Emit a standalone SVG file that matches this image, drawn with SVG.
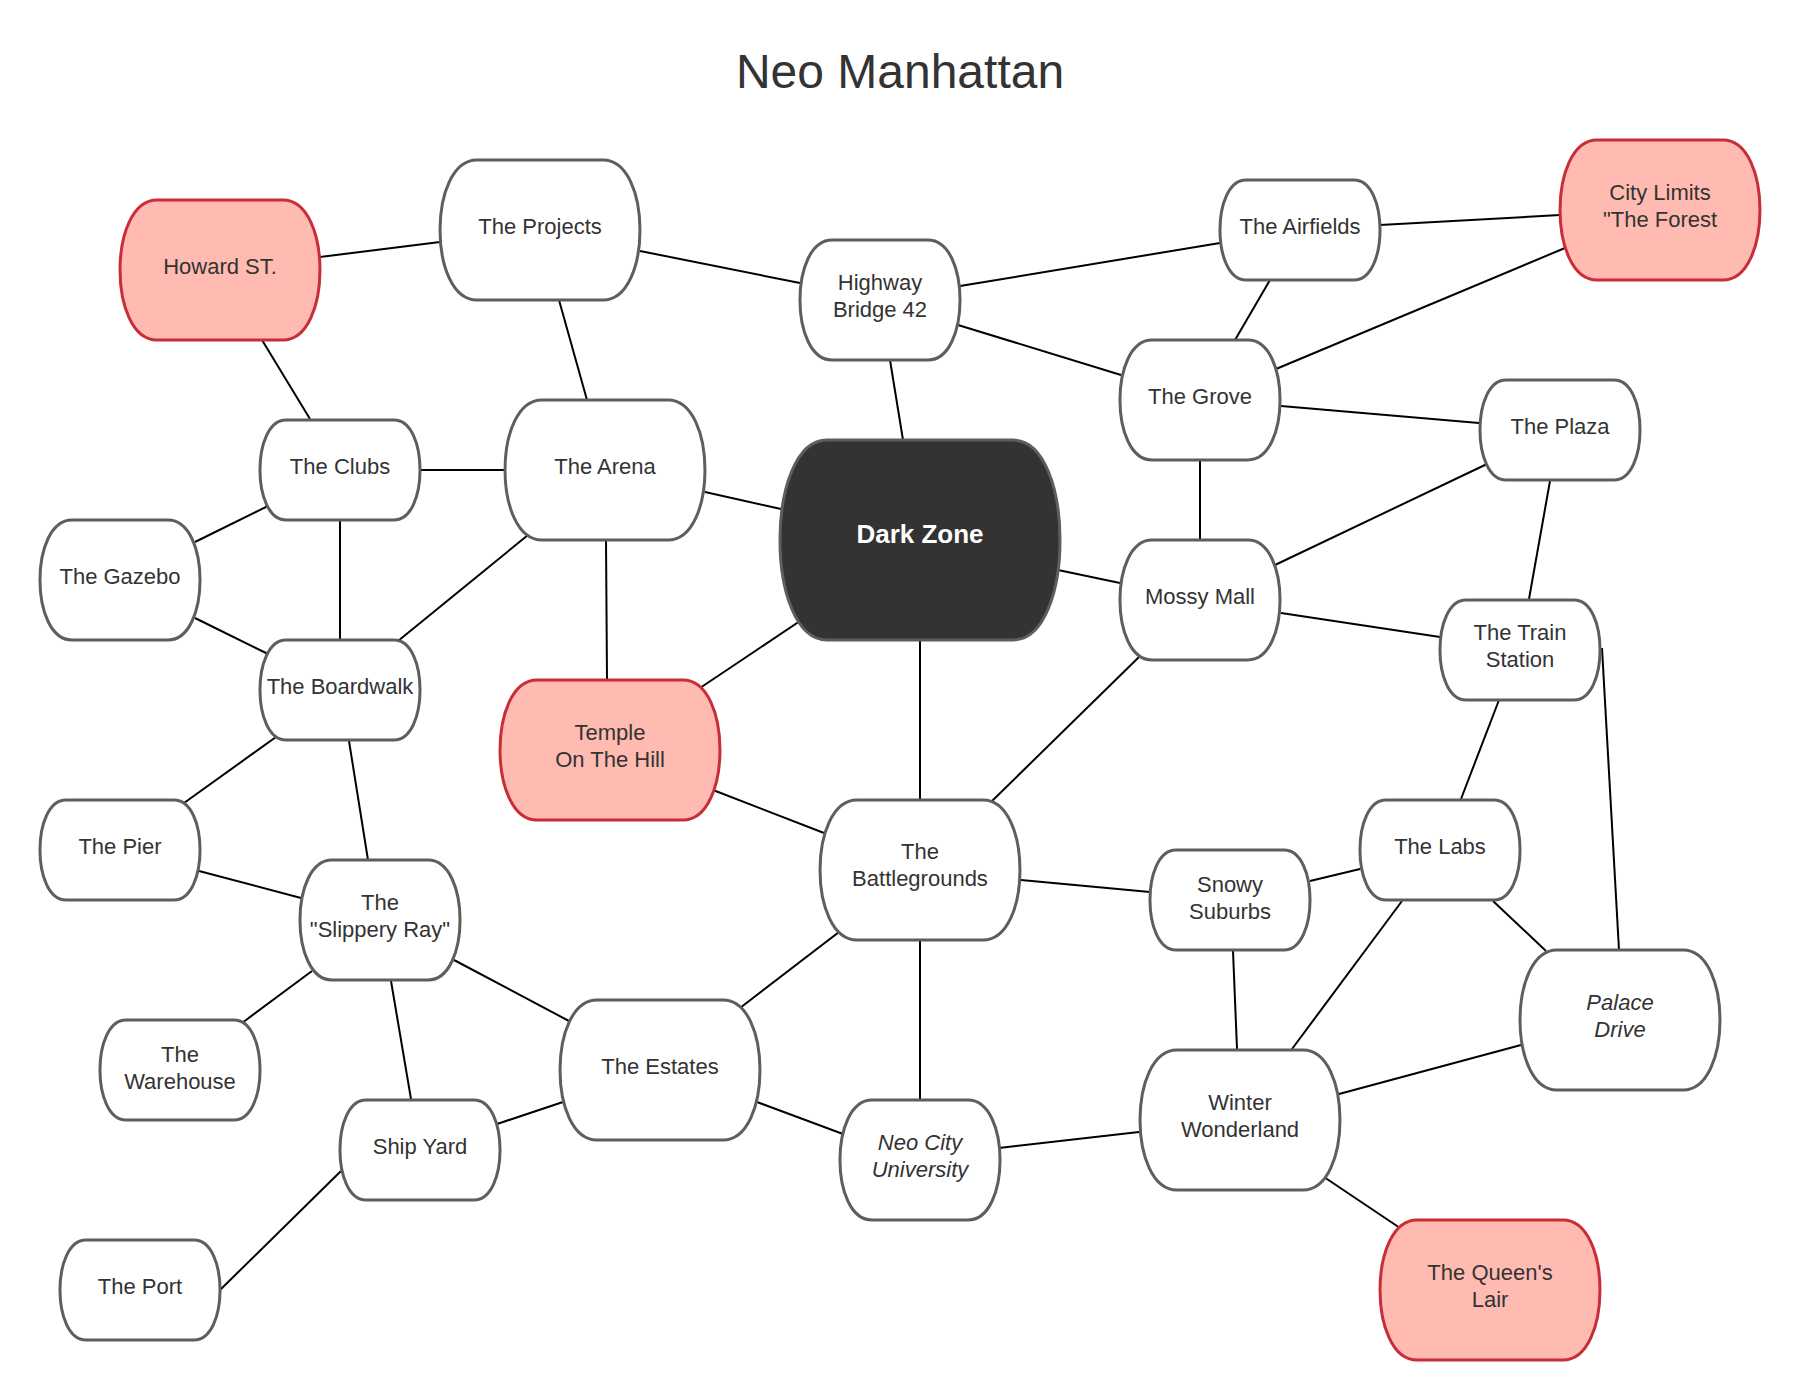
<svg xmlns="http://www.w3.org/2000/svg" width="1800" height="1400" viewBox="0 0 1800 1400">
<style>
.n{fill:#ffffff;stroke:#5e5e5e;stroke-width:3}
.r{fill:#ffbbb1;stroke:#c92d39;stroke-width:3}
.d{fill:#333333;stroke:#5e5e5e;stroke-width:3}
.t{font-family:"Liberation Sans",Arial,sans-serif;font-size:22px;fill:#333333;text-anchor:middle}
.i{font-style:italic}
.dt{font-family:"Liberation Sans",Arial,sans-serif;font-size:26px;font-weight:bold;fill:#ffffff;text-anchor:middle}
.title{font-family:"Liberation Sans",Arial,sans-serif;font-size:48px;fill:#333333;text-anchor:middle}
#edges line{stroke:#000000;stroke-width:2}
</style>
<rect width="1800" height="1400" fill="#ffffff"/>
<text class="title" x="900" y="88">Neo Manhattan</text>
<g id="edges">
<line x1="320" y1="257" x2="440" y2="242"/>
<line x1="640" y1="251" x2="800" y2="283"/>
<line x1="262" y1="340" x2="310" y2="419"/>
<line x1="559" y1="300" x2="587" y2="400"/>
<line x1="960" y1="286" x2="1220" y2="243"/>
<line x1="958" y1="325" x2="1121" y2="375"/>
<line x1="890" y1="360" x2="903" y2="440"/>
<line x1="1380" y1="225" x2="1560" y2="215"/>
<line x1="1270" y1="280" x2="1235" y2="340"/>
<line x1="1565" y1="248" x2="1276" y2="369"/>
<line x1="420" y1="470" x2="505" y2="470"/>
<line x1="268" y1="506" x2="195" y2="542"/>
<line x1="340" y1="520" x2="340" y2="640"/>
<line x1="705" y1="492" x2="781" y2="509"/>
<line x1="528" y1="535" x2="398" y2="641"/>
<line x1="606" y1="540" x2="607" y2="680"/>
<line x1="195" y1="618" x2="268" y2="654"/>
<line x1="1058" y1="570" x2="1120" y2="583"/>
<line x1="800" y1="621" x2="700" y2="688"/>
<line x1="920" y1="640" x2="920" y2="800"/>
<line x1="1281" y1="406" x2="1479" y2="423"/>
<line x1="1200" y1="460" x2="1200" y2="540"/>
<line x1="1487" y1="464" x2="1275" y2="565"/>
<line x1="1550" y1="481" x2="1529" y2="599"/>
<line x1="1281" y1="613" x2="1440" y2="637"/>
<line x1="1139" y1="657" x2="992" y2="801"/>
<line x1="1499" y1="700" x2="1461" y2="799"/>
<line x1="1602" y1="648" x2="1619" y2="950"/>
<line x1="276" y1="737" x2="184" y2="803"/>
<line x1="349" y1="741" x2="368" y2="860"/>
<line x1="713" y1="790" x2="824" y2="833"/>
<line x1="199" y1="871" x2="301" y2="898"/>
<line x1="312" y1="971" x2="242" y2="1023"/>
<line x1="391" y1="981" x2="411" y2="1099"/>
<line x1="454" y1="960" x2="569" y2="1021"/>
<line x1="1021" y1="880" x2="1150" y2="892"/>
<line x1="839" y1="932" x2="740" y2="1008"/>
<line x1="920" y1="940" x2="920" y2="1100"/>
<line x1="1310" y1="881" x2="1360" y2="869"/>
<line x1="1233" y1="951" x2="1237" y2="1049"/>
<line x1="1402" y1="901" x2="1292" y2="1049"/>
<line x1="1493" y1="901" x2="1546" y2="951"/>
<line x1="1521" y1="1045" x2="1339" y2="1094"/>
<line x1="563" y1="1102" x2="497" y2="1124"/>
<line x1="757" y1="1102" x2="843" y2="1134"/>
<line x1="341" y1="1171" x2="220" y2="1290"/>
<line x1="999" y1="1148" x2="1139" y2="1132"/>
<line x1="1324" y1="1177" x2="1400" y2="1228"/>
</g>
<g id="howard-st"><path class="r" d="M157,200 H283 C332.3,200 332.3,340 283,340 H157 C107.7,340 107.7,200 157,200 Z"/><text class="t" x="220" y="274">Howard ST.</text></g>
<g id="the-projects"><path class="n" d="M477,160 H603 C652.3,160 652.3,300 603,300 H477 C427.7,300 427.7,160 477,160 Z"/><text class="t" x="540" y="234">The Projects</text></g>
<g id="highway-bridge-42"><path class="n" d="M832,240 H928 C970.7,240 970.7,360 928,360 H832 C789.3,360 789.3,240 832,240 Z"/><text class="t" x="880" y="290">Highway</text><text class="t" x="880" y="316.5">Bridge 42</text></g>
<g id="the-airfields"><path class="n" d="M1246,180 H1354 C1388.7,180 1388.7,280 1354,280 H1246 C1211.3,280 1211.3,180 1246,180 Z"/><text class="t" x="1300" y="234">The Airfields</text></g>
<g id="city-limits"><path class="r" d="M1597,140 H1723 C1772.3,140 1772.3,280 1723,280 H1597 C1547.7,280 1547.7,140 1597,140 Z"/><text class="t" x="1660" y="200">City Limits</text><text class="t" x="1660" y="226.5">"The Forest</text></g>
<g id="the-clubs"><path class="n" d="M286,420 H394 C428.7,420 428.7,520 394,520 H286 C251.3,520 251.3,420 286,420 Z"/><text class="t" x="340" y="474">The Clubs</text></g>
<g id="the-arena"><path class="n" d="M542,400 H668 C717.3,400 717.3,540 668,540 H542 C492.7,540 492.7,400 542,400 Z"/><text class="t" x="605" y="474">The Arena</text></g>
<g id="dark-zone"><path class="d" d="M827,440 H1013 C1075.7,440 1075.7,640 1013,640 H827 C764.3,640 764.3,440 827,440 Z"/><text class="dt" x="920" y="543">Dark Zone</text></g>
<g id="the-grove"><path class="n" d="M1152,340 H1248 C1290.7,340 1290.7,460 1248,460 H1152 C1109.3,460 1109.3,340 1152,340 Z"/><text class="t" x="1200" y="404">The Grove</text></g>
<g id="the-plaza"><path class="n" d="M1506,380 H1614 C1648.7,380 1648.7,480 1614,480 H1506 C1471.3,480 1471.3,380 1506,380 Z"/><text class="t" x="1560" y="434">The Plaza</text></g>
<g id="the-gazebo"><path class="n" d="M72,520 H168 C210.7,520 210.7,640 168,640 H72 C29.3,640 29.3,520 72,520 Z"/><text class="t" x="120" y="584">The Gazebo</text></g>
<g id="mossy-mall"><path class="n" d="M1152,540 H1248 C1290.7,540 1290.7,660 1248,660 H1152 C1109.3,660 1109.3,540 1152,540 Z"/><text class="t" x="1200" y="604">Mossy Mall</text></g>
<g id="the-train-station"><path class="n" d="M1466,600 H1574 C1608.7,600 1608.7,700 1574,700 H1466 C1431.3,700 1431.3,600 1466,600 Z"/><text class="t" x="1520" y="640">The Train</text><text class="t" x="1520" y="666.5">Station</text></g>
<g id="the-boardwalk"><path class="n" d="M286,640 H394 C428.7,640 428.7,740 394,740 H286 C251.3,740 251.3,640 286,640 Z"/><text class="t" x="340" y="694">The Boardwalk</text></g>
<g id="temple-on-the-hill"><path class="r" d="M537,680 H683 C732.3,680 732.3,820 683,820 H537 C487.7,820 487.7,680 537,680 Z"/><text class="t" x="610" y="740">Temple</text><text class="t" x="610" y="766.5">On The Hill</text></g>
<g id="the-pier"><path class="n" d="M66,800 H174 C208.7,800 208.7,900 174,900 H66 C31.3,900 31.3,800 66,800 Z"/><text class="t" x="120" y="854">The Pier</text></g>
<g id="the-battlegrounds"><path class="n" d="M857,800 H983 C1032.3,800 1032.3,940 983,940 H857 C807.7,940 807.7,800 857,800 Z"/><text class="t" x="920" y="859">The</text><text class="t" x="920" y="885.5">Battlegrounds</text></g>
<g id="the-slippery-ray"><path class="n" d="M332,860 H428 C470.7,860 470.7,980 428,980 H332 C289.3,980 289.3,860 332,860 Z"/><text class="t" x="380" y="910">The</text><text class="t" x="380" y="936.5">"Slippery Ray"</text></g>
<g id="snowy-suburbs"><path class="n" d="M1176,850 H1284 C1318.7,850 1318.7,950 1284,950 H1176 C1141.3,950 1141.3,850 1176,850 Z"/><text class="t" x="1230" y="892">Snowy</text><text class="t" x="1230" y="918.5">Suburbs</text></g>
<g id="the-labs"><path class="n" d="M1386,800 H1494 C1528.7,800 1528.7,900 1494,900 H1386 C1351.3,900 1351.3,800 1386,800 Z"/><text class="t" x="1440" y="854">The Labs</text></g>
<g id="the-warehouse"><path class="n" d="M126,1020 H234 C268.7,1020 268.7,1120 234,1120 H126 C91.3,1120 91.3,1020 126,1020 Z"/><text class="t" x="180" y="1062">The</text><text class="t" x="180" y="1088.5">Warehouse</text></g>
<g id="the-estates"><path class="n" d="M597,1000 H723 C772.3,1000 772.3,1140 723,1140 H597 C547.7,1140 547.7,1000 597,1000 Z"/><text class="t" x="660" y="1074">The Estates</text></g>
<g id="palace-drive"><path class="n" d="M1557,950 H1683 C1732.3,950 1732.3,1090 1683,1090 H1557 C1507.7,1090 1507.7,950 1557,950 Z"/><text class="t i" x="1620" y="1010">Palace</text><text class="t i" x="1620" y="1036.5">Drive</text></g>
<g id="ship-yard"><path class="n" d="M366,1100 H474 C508.7,1100 508.7,1200 474,1200 H366 C331.3,1200 331.3,1100 366,1100 Z"/><text class="t" x="420" y="1154">Ship Yard</text></g>
<g id="neo-city-university"><path class="n" d="M872,1100 H968 C1010.7,1100 1010.7,1220 968,1220 H872 C829.3,1220 829.3,1100 872,1100 Z"/><text class="t i" x="920" y="1150">Neo City</text><text class="t i" x="920" y="1176.5">University</text></g>
<g id="winter-wonderland"><path class="n" d="M1177,1050 H1303 C1352.3,1050 1352.3,1190 1303,1190 H1177 C1127.7,1190 1127.7,1050 1177,1050 Z"/><text class="t" x="1240" y="1110">Winter</text><text class="t" x="1240" y="1136.5">Wonderland</text></g>
<g id="the-port"><path class="n" d="M86,1240 H194 C228.7,1240 228.7,1340 194,1340 H86 C51.3,1340 51.3,1240 86,1240 Z"/><text class="t" x="140" y="1294">The Port</text></g>
<g id="the-queens-lair"><path class="r" d="M1417,1220 H1563 C1612.3,1220 1612.3,1360 1563,1360 H1417 C1367.7,1360 1367.7,1220 1417,1220 Z"/><text class="t" x="1490" y="1280">The Queen's</text><text class="t" x="1490" y="1306.5">Lair</text></g>
</svg>
